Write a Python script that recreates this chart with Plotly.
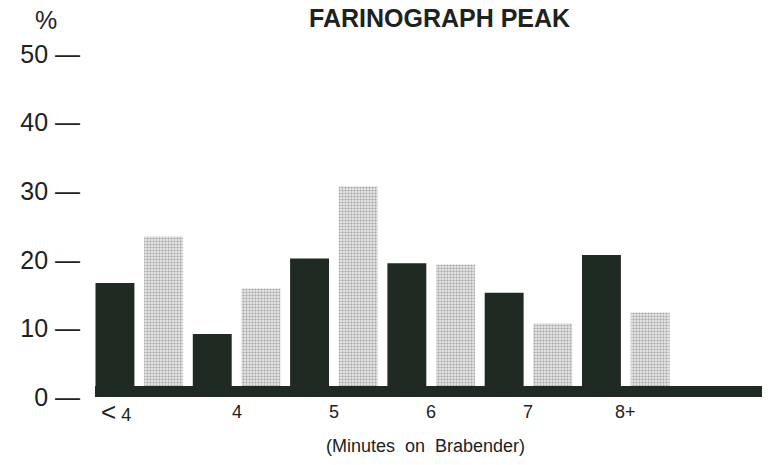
import plotly.graph_objects as go

categories = ["<4", "4", "5", "6", "7", "8+"]
tick_labels = ["<span style='font-size:26px'>&lt;</span> 4", "4", "5", "6", "7", "8+"]
series_dark = [16.6, 9.2, 20.2, 19.5, 15.2, 20.7]
series_light = [23.4, 15.8, 30.7, 19.3, 10.7, 12.3]
y_ticks = [0, 10, 20, 30, 40, 50]
y_tick_labels = [f"{v} —" for v in y_ticks]

DARK = "#1f2a22"
TEXT = "#1e221f"
FONT = "Liberation Sans, Arial, sans-serif"

fig = go.Figure()
fig.add_trace(go.Bar(
    x=categories, y=series_dark, name="dark",
    marker=dict(color=DARK, line=dict(width=0)),
))
fig.add_trace(go.Bar(
    x=categories, y=series_light, name="light",
    marker=dict(color="#d6d6d6", line=dict(width=0),
                pattern=dict(shape=".", bgcolor="#e6e6e6", fgcolor="#a4a4a4",
                             size=3, solidity=0.4, fillmode="replace")),
))

# thick base bar along the x axis
fig.add_shape(type="rect", xref="paper", yref="y", x0=0, x1=1, y0=0, y1=1.6,
              fillcolor=DARK, line=dict(width=0), layer="above")

annotations = []
for i, t in enumerate(tick_labels):
    annotations.append(dict(
        x=i, xref="x", y=0, yref="paper", text=t, showarrow=False,
        xanchor="center", yanchor="middle", yshift=-15,
        xshift=-23 if i == 0 else 0,
        font=dict(size=18, color=TEXT, family=FONT)))
annotations.append(dict(
    x=0.496, xref="paper", y=0, yref="paper", text="(Minutes  on  Brabender)",
    showarrow=False, xanchor="center", yanchor="middle", yshift=-48.5,
    font=dict(size=18, color=TEXT, family=FONT)))
annotations.append(dict(
    x=0.517, xref="paper", y=1, yref="paper", text="<b>FARINOGRAPH PEAK</b>",
    showarrow=False, xanchor="center", yanchor="middle", yshift=36.5,
    font=dict(size=25, color=TEXT, family=FONT)))
annotations.append(dict(
    x=-0.073, xref="paper", y=1, yref="paper", text="%",
    showarrow=False, xanchor="center", yanchor="middle", yshift=34.5,
    font=dict(size=25, color=TEXT, family=FONT)))

fig.update_layout(
    width=777, height=465,
    margin=dict(l=95, r=15, t=54, b=68),
    paper_bgcolor="white", plot_bgcolor="white",
    barmode="group", bargap=0.0, bargroupgap=0.2,
    showlegend=False,
    font=dict(family=FONT, color=TEXT),
    annotations=annotations,
    xaxis=dict(range=[-0.455, 6.40], showticklabels=False, showgrid=False,
               zeroline=False, showline=False, ticks=""),
    yaxis=dict(range=[0, 50], tickvals=y_ticks, ticktext=y_tick_labels,
               showgrid=False, zeroline=False, showline=False, ticks="",
               ticklabelstandoff=14, tickfont=dict(size=25, color=TEXT, family=FONT)),
)

fig.write_html("out.html", config={"displayModeBar": False},
               post_script="document.body.style.margin='0';")
